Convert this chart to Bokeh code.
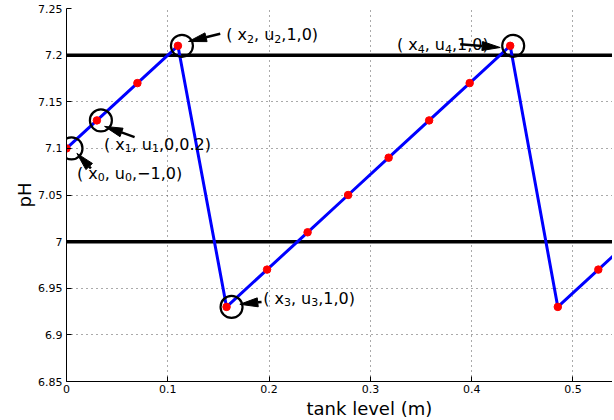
import math
from bokeh.plotting import figure
from bokeh.models import Span, FixedTicker, Title
from bokeh.core.properties import value
from bokeh.embed import file_html
from bokeh.resources import INLINE

# ---------------- data ----------------
tank_level = [0.0, 0.03, 0.07, 0.11, 0.158, 0.198, 0.238, 0.278, 0.318, 0.358,
              0.398, 0.438, 0.485, 0.525, 0.565]
ph = [7.10, 7.13, 7.17, 7.21, 6.93, 6.97, 7.01, 7.05, 7.09, 7.13,
      7.17, 7.21, 6.93, 6.97, 7.01]
ph_limits = [7.0, 7.2]

x_ticks = [0.0, 0.1, 0.2, 0.3, 0.4, 0.5]
x_tick_labels = ["0", "0.1", "0.2", "0.3", "0.4", "0.5"]
y_ticks = [6.85, 6.9, 6.95, 7.0, 7.05, 7.1, 7.15, 7.2, 7.25]
y_tick_labels = ["6.85", "6.9", "6.95", "7", "7.05", "7.1", "7.15", "7.2", "7.25"]

ann_index = [0, 1, 3, 4, 11]
ann_sub = ["0", "1", "2", "3", "4"]
ann_tail = [",\u22121,0)", ",0,0.2)", ",1,0)", ",1,0)", ",1,0)"]

x_title = "tank level (m)"
y_title = "pH"

# ---------------- layout / style (pixel offsets) ----------------
FW, FH = 546, 373
X0, X1 = 0.0, 0.539
Y0, Y1 = 6.85, 7.25
SX = FW / (X1 - X0)
SY = FH / (Y1 - Y0)

XTITLE_LEFT_PX = 240        # px right of the y axis (full axis is cropped)

circle_dx = [5, 4, 4, 5, 3]
arrow_tip = [(10.4, 5), (7.7, 6), (10.6, -4.3), (13.3, -2.6), (-10, 1.7)]
arrow_tail = [(24.4, 20), (37.7, 16.7), (42.3, -12), (35, -5), (-50, -1.6)]
text_pos = [(10.4, 25), (7, 23.7), (48.3, -11), (36.6, -8.6), (-113.3, -1)]
HEAD_L, HEAD_HW = 18, 4.5
MAIN_FS, SUB_FS = 16, 11
SUB_DY = 4

W = {'(': .390, ')': .390, ' ': .318, 'x': .592, 'u': .634, ',': .318,
     '\u2212': .838, '.': .318}
for d in "0123456789":
    W[d] = .636


def tw(s, fs):
    return sum(W.get(c, .6) for c in s) * fs


def to_data(x, y, dx, dy):
    return x + dx / SX, y - dy / SY


p = figure(frame_width=FW, frame_height=FH, x_range=(X0, X1), y_range=(Y0, Y1),
           min_border_left=66, min_border_right=0, min_border_top=8,
           min_border_bottom=38, output_backend="svg", toolbar_location=None,
           background_fill_color="white", border_fill_color="white")
p.outline_line_color = None

for ax, ticks, labels in ((p.xaxis, x_ticks, x_tick_labels), (p.yaxis, y_ticks, y_tick_labels)):
    ax.ticker = FixedTicker(ticks=ticks)
    ax.major_label_overrides = dict(zip(ticks, labels))
    ax.axis_line_color = "black"
    ax.axis_line_width = 1
    ax.major_tick_in = 5
    ax.major_tick_out = 0
    ax.major_tick_line_color = "black"
    ax.minor_tick_line_color = None
    ax.major_label_text_font = "DejaVu Sans"
    ax.major_label_text_font_size = "11px"
    ax.major_label_text_color = "black"
    ax.axis_label_text_font = "DejaVu Sans"
    ax.axis_label_text_font_size = "18px"
    ax.axis_label_text_font_style = "normal"
    ax.axis_label_text_color = "black"

p.yaxis.axis_label = y_title
p.xaxis.major_label_standoff = 3
p.yaxis.major_label_standoff = 4
p.yaxis.axis_label_standoff = 0

p.add_layout(Title(text=x_title, align="left", offset=XTITLE_LEFT_PX, standoff=0,
                   text_font="DejaVu Sans", text_font_size="18px",
                   text_font_style="normal", text_color="black"), "below")

p.xgrid.ticker = FixedTicker(ticks=x_ticks)
p.ygrid.ticker = FixedTicker(ticks=y_ticks)
for g in (p.xgrid, p.ygrid):
    g.grid_line_color = "#555555"
    g.grid_line_dash = "1 4"
    g.grid_line_width = 1

for lim in ph_limits:
    p.add_layout(Span(location=lim, dimension="width", line_color="black",
                      line_width=3.5, level="underlay"))

p.line(tank_level, ph, line_color="#0000ff", line_width=3)
p.scatter(tank_level, ph, size=7.5, marker="circle", fill_color="#ff0000",
          line_color="#ff0000")

# circles around key points
cx, cy = [], []
for k, i in enumerate(ann_index):
    x, y = to_data(tank_level[i], ph[i], circle_dx[k], 0)
    cx.append(x)
    cy.append(y)
p.scatter(cx, cy, size=22, marker="circle", fill_color=None,
          line_color="black", line_width=2.2)

# arrows
sx0, sy0, sx1, sy1, hx, hy = [], [], [], [], [], []
for k, i in enumerate(ann_index):
    xi, yi = tank_level[i], ph[i]
    (tx, ty), (ax_, ay_) = arrow_tip[k], arrow_tail[k]
    L = math.hypot(tx - ax_, ty - ay_)
    ux, uy = (tx - ax_) / L, (ty - ay_) / L
    bx, by = tx - ux * HEAD_L, ty - uy * HEAD_L
    nx, ny = -uy, ux
    a = to_data(xi, yi, ax_, ay_)
    b = to_data(xi, yi, bx, by)
    sx0.append(a[0]); sy0.append(a[1]); sx1.append(b[0]); sy1.append(b[1])
    pts = [(tx, ty), (bx + nx * HEAD_HW, by + ny * HEAD_HW), (bx - nx * HEAD_HW, by - ny * HEAD_HW)]
    dpts = [to_data(xi, yi, px_, py_) for px_, py_ in pts]
    hx.append([q[0] for q in dpts])
    hy.append([q[1] for q in dpts])
p.segment(sx0, sy0, sx1, sy1, line_color="black", line_width=2.5)
p.patches(hx, hy, fill_color="black", line_color="black", line_width=1)

# annotation texts with subscripts
mx, my, mt, bx_, by_, bt = [], [], [], [], [], []
for k, i in enumerate(ann_index):
    xi, yi = tank_level[i], ph[i]
    ox, oy = text_pos[k]
    pieces = [("( x", False), (ann_sub[k], True), (", u", False), (ann_sub[k], True), (ann_tail[k], False)]
    cur = ox
    for s, is_sub in pieces:
        if is_sub:
            x, y = to_data(xi, yi, cur, oy + SUB_DY)
            bx_.append(x); by_.append(y); bt.append(s)
            cur += tw(s, SUB_FS)
        else:
            x, y = to_data(xi, yi, cur, oy)
            mx.append(x); my.append(y); mt.append(s)
            cur += tw(s, MAIN_FS)
p.text(mx, my, text=mt, text_font=value("DejaVu Sans"), text_font_size=f"{MAIN_FS}px",
       text_color="black", text_align="left", text_baseline="alphabetic")
p.text(bx_, by_, text=bt, text_font=value("DejaVu Sans"), text_font_size=f"{SUB_FS}px",
       text_color="black", text_align="left", text_baseline="alphabetic")

open("out.html", "w").write(file_html(p, INLINE))
